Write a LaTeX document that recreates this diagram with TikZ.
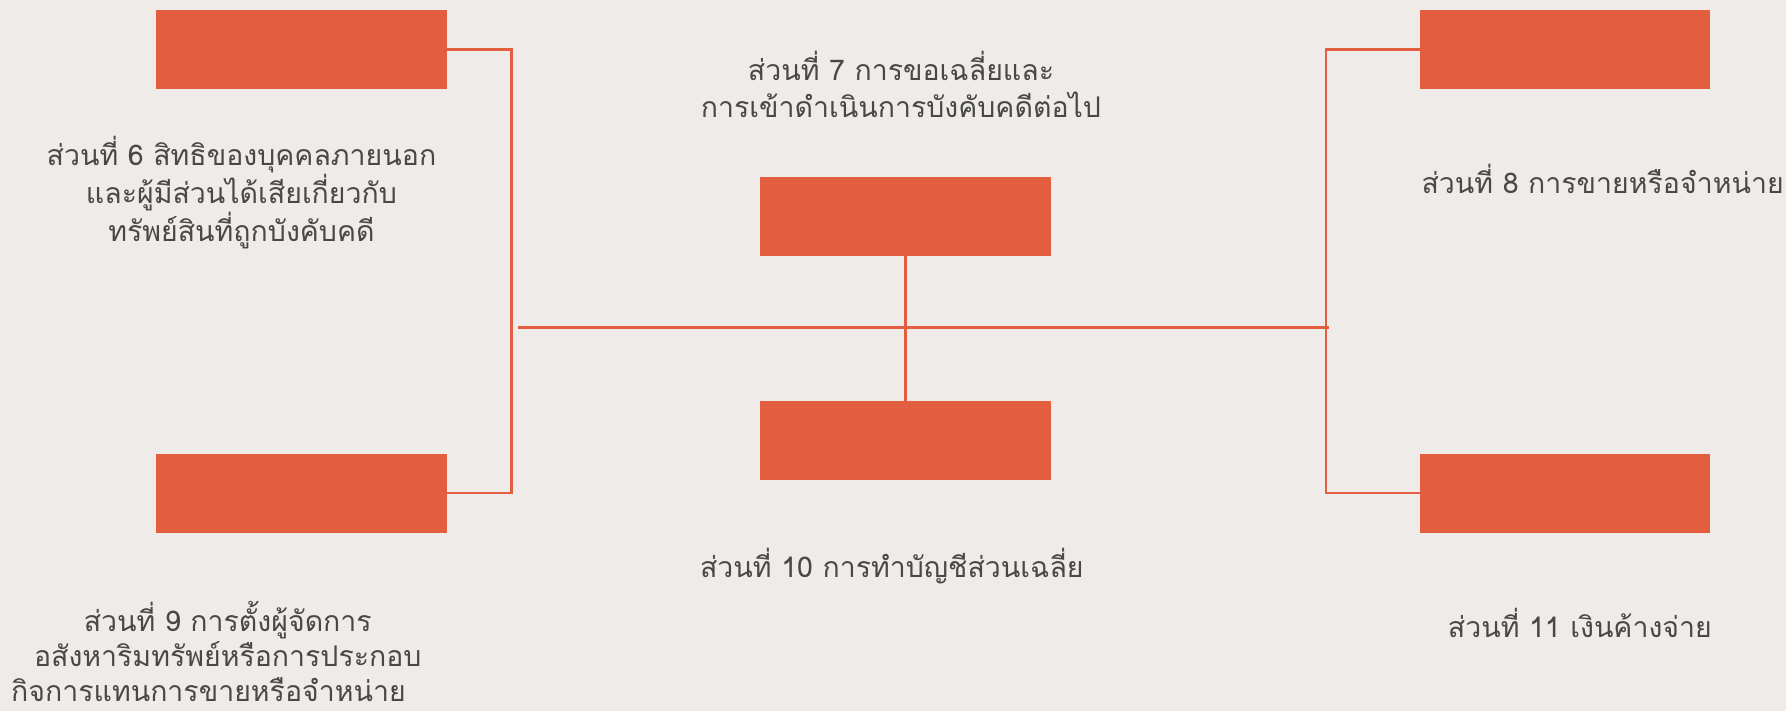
\documentclass[tikz,border=0pt]{standalone}
\usepackage{fontspec}
\newfontfamily\thaifont[Script=Thai]{Loma}
\definecolor{bgc}{RGB}{238,235,232}
\definecolor{boxc}{RGB}{226,94,62}
\definecolor{txtc}{RGB}{72,72,72}
\tikzset{
  bar/.style={fill=boxc, draw=none, minimum width=255pt, minimum height=69pt, inner sep=0pt},
  lbl/.style={text=txtc, font=\thaifont\fontsize{25}{33}\selectfont, align=center, inner sep=0pt},
  lbltight/.style={lbl, font=\thaifont\fontsize{25}{31}\selectfont},
  link/.style={draw=boxc, line width=2pt}
}
\begin{document}
\begin{tikzpicture}[x=1pt,y=-1pt]
\fill[bgc] (0,0) rectangle (1568,624);
\useasboundingbox (0,0) rectangle (1568,624);
% boxes
\node[bar] (tl) at (264.5,43.5) {};
\node[bar] (bl) at (264.5,433) {};
\node[bar] (ct) at (795,190) {};
\node[bar] (cb) at (795,386.5) {};
\node[bar] (tr) at (1374,43.5) {};
\node[bar] (br) at (1374,433) {};
% junction coordinates
\coordinate (lv) at (449,287);
\coordinate (hl) at (455,287.5);
\coordinate (hr) at (1167,287.5);
\coordinate (rv) at (1164,287);
% connectors
\draw[link] (tl.east) -| (lv) |- (bl.east);
\draw[link] (tr.west) -| (rv) |- (br.west);
\draw[link] (hl) -- (hr);
\draw[link] (ct.south) -- (cb.north);
% labels
\node[lbl] (t6) at (212,169) {ส่วนที่ 6 สิทธิของบุคคลภายนอก\\และผู้มีส่วนได้เสียเกี่ยวกับ\\ทรัพย์สินที่ถูกบังคับคดี};
\node[lbl] (t7) at (791,74) {ส่วนที่ 7 การขอเฉลี่ยและ\\การเข้าดำเนินการบังคับคดีต่อไป};
\node[lbl] (t8) at (1407,157) {ส่วนที่ 8 การขายหรือจำหน่าย};
\node[lbltight] (t9) at (200,572) {ส่วนที่ 9 การตั้งผู้จัดการ\\อสังหาริมทรัพย์หรือการประกอบ\\กิจการแทนการขายหรือจำหน่าย\hspace*{34pt}};
\node[lbl] (t10) at (783,497) {ส่วนที่ 10 การทำบัญชีส่วนเฉลี่ย};
\node[lbl] (t11) at (1387,547) {ส่วนที่ 11 เงินค้างจ่าย};
\end{tikzpicture}
\end{document}
